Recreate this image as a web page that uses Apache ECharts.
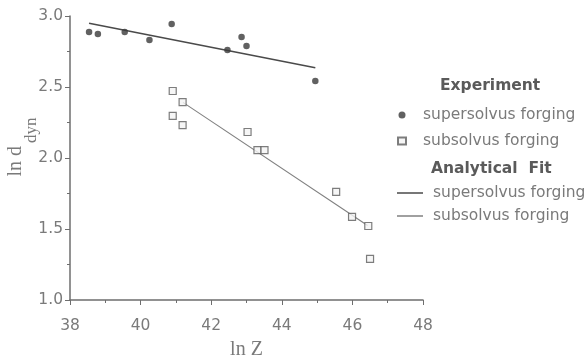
<!DOCTYPE html>
<html>
<head>
<meta charset="utf-8">
<script src="https://cdn.jsdelivr.net/npm/echarts@6/dist/echarts.min.js"></script>
<style>
  html, body { margin: 0; padding: 0; background: #fff; }
  #chart { width: 588px; height: 358px; }
</style>
</head>
<body>
<div id="chart"></div>
<script>
// Measured recrystallised grain size vs Zener-Hollomon parameter
const superX = [38.54, 38.79, 39.55, 40.25, 40.88, 42.46, 42.86, 43.0, 44.95];
const superY = [2.887, 2.873, 2.887, 2.831, 2.944, 2.76, 2.852, 2.789, 2.542];
const subX = [40.91, 41.19, 40.91, 41.19, 43.03, 43.31, 43.51, 45.54, 45.99, 46.45, 46.5];
const subY = [2.472, 2.394, 2.296, 2.232, 2.183, 2.056, 2.056, 1.761, 1.585, 1.521, 1.289];

// Analytical fit lines (end points)
const superFitX = [38.54, 44.95];
const superFitY = [2.949, 2.636];
const subFitX = [41.2, 46.43];
const subFitY = [2.392, 1.525];

const xTicks = [38, 40, 42, 44, 46, 48];
const yTicks = [1.0, 1.5, 2.0, 2.5, 3.0];

const pairs = (xs, ys) => xs.map((x, i) => [x, ys[i]]);

const labels = {
  superExp: 'supersolvus forging',
  subExp: 'subsolvus forging',
  superFit: 'supersolvus forging',
  subFit: 'subsolvus forging'
};
const names = {
  superExp: 'supersolvus forging (exp)',
  subExp: 'subsolvus forging (exp)',
  superFit: 'supersolvus forging (fit)',
  subFit: 'subsolvus forging (fit)'
};
const nameToLabel = {};
Object.keys(names).forEach(k => { nameToLabel[names[k]] = labels[k]; });

const FONT = 'DejaVu Sans';
const axisColor = '#6e6e6e';
const textColor = '#7a7a7a';
const superColor = '#3a3a3a';
const superLine = '#4a4a4a';
const subLine = '#808080';

const chart = echarts.init(document.getElementById('chart'), null, { renderer: 'canvas' });

chart.setOption({
  animation: false,
  backgroundColor: '#fff',
  grid: { left: 70, right: 165, top: 16, bottom: 58, containLabel: false, outerBoundsMode: 'none' },
  xAxis: {
    type: 'value',
    min: xTicks[0],
    max: xTicks[xTicks.length - 1],
    interval: 2,
    name: 'ln Z',
    nameLocation: 'middle',
    nameGap: 40,
    nameMoveOverlap: false,
    nameTextStyle: { fontFamily: 'Liberation Serif', fontSize: 20, color: textColor },
    axisLine: { lineStyle: { color: axisColor, width: 1.5 } },
    axisTick: { show: true, inside: false, length: 5, lineStyle: { color: axisColor } },
    minorTick: { show: true, splitNumber: 2, length: 3, lineStyle: { color: axisColor } },
    splitLine: { show: false },
    axisLabel: { fontFamily: FONT, fontSize: 15.5, color: textColor, margin: 18 }
  },
  yAxis: {
    type: 'value',
    min: yTicks[0],
    max: yTicks[yTicks.length - 1],
    interval: 0.5,
    name: '{a|ln d}{b|dyn}',
    nameLocation: 'middle',
    nameRotate: 90,
    nameGap: 30,
    nameMoveOverlap: false,
    nameTextStyle: {
      color: textColor,
      padding: [0, 0, 0, 22],
      rich: {
        a: { fontFamily: 'Liberation Serif', fontSize: 20, color: textColor, lineHeight: 34, verticalAlign: 'top' },
        b: { fontFamily: 'Liberation Serif', fontSize: 17, color: textColor, lineHeight: 34, verticalAlign: 'bottom', padding: [0, 0, 0, 3] }
      }
    },
    axisLine: { show: true, lineStyle: { color: axisColor, width: 1.5 } },
    axisTick: { show: true, inside: false, length: 5, lineStyle: { color: axisColor } },
    minorTick: { show: true, splitNumber: 2, length: 3, lineStyle: { color: axisColor } },
    splitLine: { show: false },
    axisLabel: {
      fontFamily: FONT, fontSize: 15.5, color: textColor, margin: 7,
      formatter: v => v.toFixed(1)
    }
  },
  legend: [
    {
      orient: 'vertical',
      left: 397,
      top: 106,
      padding: 0,
      itemWidth: 8,
      itemHeight: 7,
      itemGap: 8,
      selectedMode: false,
      data: [names.superExp, names.subExp],
      formatter: n => nameToLabel[n],
      textStyle: { fontFamily: FONT, fontSize: 15.5, color: textColor, lineHeight: 18, padding: [0, 0, 0, 12] }
    },
    {
      orient: 'vertical',
      left: 397,
      top: 184,
      padding: 0,
      itemWidth: 26,
      itemHeight: 1.5,
      itemGap: 5,
      selectedMode: false,
      data: [
        { name: names.superFit, icon: 'rect', itemStyle: { color: superLine } },
        { name: names.subFit, icon: 'rect', itemStyle: { color: subLine } }
      ],
      formatter: n => nameToLabel[n],
      textStyle: { fontFamily: FONT, fontSize: 15.5, color: textColor, lineHeight: 18, padding: [0, 0, 0, 5] }
    }
  ],
  graphic: [
    {
      type: 'text',
      left: 440, top: 78,
      style: { text: 'Experiment', font: 'bold 15.5px "DejaVu Sans"', fill: '#5a5a5a' }
    },
    {
      type: 'text',
      left: 431, top: 161,
      style: { text: 'Analytical  Fit', font: 'bold 15.5px "DejaVu Sans"', fill: '#5a5a5a' }
    }
  ],
  series: [
    {
      name: names.superFit,
      type: 'line',
      data: pairs(superFitX, superFitY),
      symbol: 'none',
      lineStyle: { color: superLine, width: 1.6 },
      itemStyle: { color: superLine },
      z: 2
    },
    {
      name: names.subFit,
      type: 'line',
      data: pairs(subFitX, subFitY),
      symbol: 'none',
      lineStyle: { color: subLine, width: 1.1 },
      itemStyle: { color: subLine },
      z: 2
    },
    {
      name: names.superExp,
      type: 'scatter',
      data: pairs(superX, superY),
      symbol: 'circle',
      symbolSize: 6.5,
      itemStyle: { color: superColor },
      z: 3
    },
    {
      name: names.subExp,
      type: 'scatter',
      data: pairs(subX, subY),
      symbol: 'rect',
      symbolSize: 7,
      itemStyle: { color: '#f4f4f4', borderColor: '#5e5e5e', borderWidth: 1.2 },
      z: 3
    }
  ]
});
</script>
</body>
</html>
